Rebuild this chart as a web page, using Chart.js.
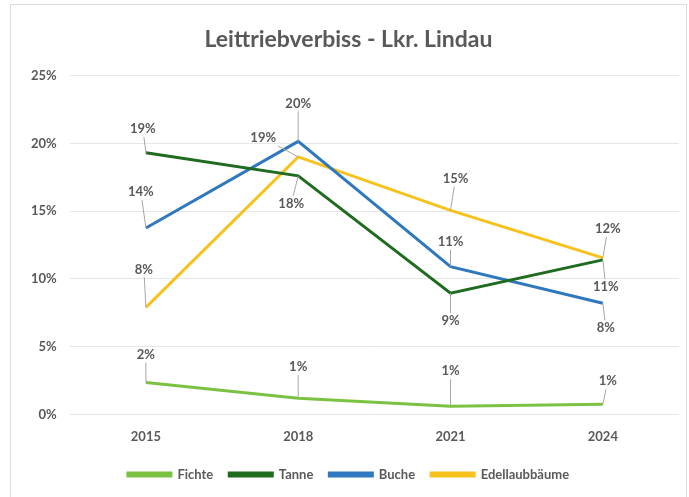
<!DOCTYPE html>
<html>
<head>
<meta charset="utf-8">
<script src="https://cdn.jsdelivr.net/npm/chart.js@4"></script>
<style>
  html, body { margin: 0; padding: 0; background: #fff; }
  #wrap { position: relative; width: 689px; height: 497px; }
  #frame { position: absolute; left: 10px; top: 4px; right: 2px; bottom: -2px; border: 1px solid #dcdcdc; }
  #myChart { position: absolute; left: 0; top: 0; }
</style>
</head>
<body>
<div id="wrap">
  <div id="frame"></div>
  <canvas id="myChart" width="689" height="497"></canvas>
</div>
<script>
var years = ["2015", "2018", "2021", "2024"];
var fichte = [2.35, 1.2, 0.6, 0.75];
var tanne = [19.3, 17.6, 8.95, 11.4];
var buche = [13.75, 20.15, 10.9, 8.2];
var edellaub = [7.9, 19.0, 15.05, 11.55];
var yTicks = [0, 5, 10, 15, 20, 25];

// where each data label sits, relative to its point (dx, dy)
var labelOffsets = [
  [[0, -28], [0, -31], [0, -35], [5, -23]],
  [[-3, -24], [-7, 28], [0, 28], [3, 27]],
  [[-5, -36], [0, -38], [0, -25], [3, 25]],
  [[-2, -38], [-35, -19], [5, -32], [5, -29]]
];

var grey = "#595959";
var font = "Lato, 'Open Sans', sans-serif";

function line(label, values, color) {
  return {
    label: label,
    data: values,
    borderColor: color,
    backgroundColor: color,
    borderWidth: 3,
    pointRadius: 0,
    pointHoverRadius: 0,
    tension: 0
  };
}

// kleine Beschriftungen mit Führungslinien
var pointLabels = {
  id: "pointLabels",
  afterDatasetsDraw: function(chart) {
    var ctx = chart.ctx;
    ctx.save();
    ctx.font = "bold 13px " + font;
    ctx.textAlign = "center";
    ctx.textBaseline = "middle";
    chart.data.datasets.forEach(function(ds, di) {
      var meta = chart.getDatasetMeta(di);
      meta.data.forEach(function(pt, i) {
        var off = labelOffsets[di][i];
        var lx = pt.x + off[0], ly = pt.y + off[1];
        var txt = Math.round(ds.data[i]) + "%";
        var hw = ctx.measureText(txt).width / 2 + 2, hh = 8;
        var dx = pt.x - lx, dy = pt.y - ly;
        var t = Math.min(dx !== 0 ? hw / Math.abs(dx) : 99, dy !== 0 ? hh / Math.abs(dy) : 99);
        if (t < 1) {
          ctx.strokeStyle = "#a6a6a6";
          ctx.lineWidth = 1;
          ctx.beginPath();
          ctx.moveTo(lx + dx * t, ly + dy * t);
          ctx.lineTo(pt.x, pt.y);
          ctx.stroke();
        }
        ctx.fillStyle = grey;
        ctx.fillText(txt, lx, ly);
      });
    });
    ctx.restore();
  }
};

new Chart("myChart", {
  type: "line",
  data: {
    labels: years,
    datasets: [
      line("Fichte", fichte, "#7cc242"),
      line("Tanne", tanne, "#1f6b1f"),
      line("Buche", buche, "#2f78bd"),
      line("Edellaubbäume", edellaub, "#f7c21c")
    ]
  },
  options: {
    responsive: false,
    animation: false,
    layout: { padding: { left: 18, right: 10, top: 14, bottom: 6 } },
    plugins: {
      title: {
        display: true,
        text: "Leittriebverbiss - Lkr. Lindau",
        color: grey,
        font: { family: font, size: 23, weight: "bold" },
        padding: { top: 12, bottom: 22 }
      },
      legend: {
        position: "bottom",
        labels: {
          color: grey,
          font: { family: font, size: 13, weight: "bold" },
          boxWidth: 43,
          boxHeight: 3,
          padding: 16
        }
      },
      tooltip: { enabled: false }
    },
    scales: {
      x: {
        offset: true,
        grid: { display: false },
        border: { display: false },
        ticks: { color: grey, font: { family: font, size: 13, weight: "bold" }, padding: 7 }
      },
      y: {
        min: 0,
        max: 25,
        afterBuildTicks: function(axis) {
          axis.ticks = yTicks.map(function(v) { return { value: v }; });
        },
        grid: { color: "#e6e6e6", drawTicks: false },
        border: { display: false },
        ticks: {
          color: grey,
          font: { family: font, size: 13, weight: "bold" },
          padding: 13,
          callback: function(v) { return v + "%"; }
        }
      }
    }
  },
  plugins: [pointLabels]
});
</script>
</body>
</html>
